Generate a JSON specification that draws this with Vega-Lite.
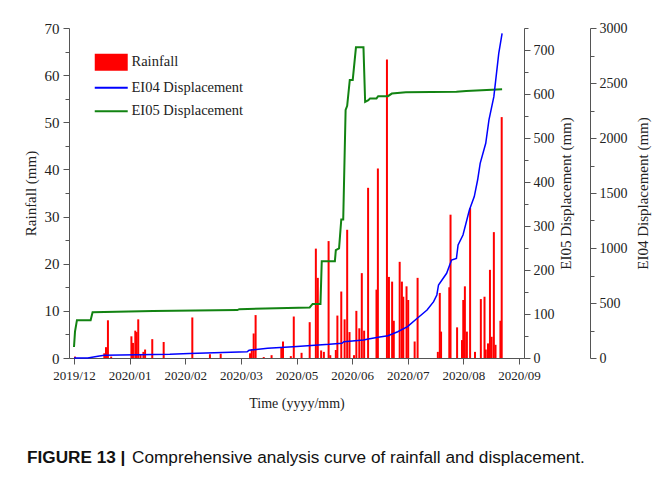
{
  "$schema": "https://vega.github.io/schema/vega-lite/v6.json",
  "autosize": "none",
  "width": 455,
  "height": 330,
  "padding": {"left": 69, "top": 28, "right": 140, "bottom": 120},
  "background": "white",
  "config": {
    "view": {"stroke": null},
    "axis": {"labelFont": "Liberation Serif", "titleFont": "Liberation Serif", "labelColor": "#222", "titleColor": "#222", "domainColor": "#555", "tickColor": "#555", "titleFontWeight": "normal", "grid": false}
  },
  "title": {
    "text": "FIGURE 13 |",
    "subtitle": "\u200b\u00a0\u00a0\u00a0\u00a0\u00a0\u00a0\u00a0\u00a0\u00a0\u00a0\u00a0\u00a0\u00a0\u00a0\u00a0\u00a0\u00a0\u00a0\u00a0\u00a0\u00a0\u00a0Comprehensive analysis curve of rainfall and displacement.",
    "orient": "bottom",
    "anchor": "start",
    "frame": "group",
    "dx": -42,
    "offset": 39,
    "font": "Liberation Sans",
    "fontSize": 17.2,
    "fontWeight": "bold",
    "color": "#111",
    "subtitleFont": "Liberation Sans",
    "subtitleFontSize": 17.2,
    "subtitleColor": "#111",
    "subtitlePadding": -17.2
  },
  "datasets": {
    "rain": [
      {"t":0.018,"r":0.3},{"t":0.545,"r":1.0},{"t":0.575,"r":2.3},{"t":0.610,"r":8.0},{"t":0.668,"r":0.3},
      {"t":1.032,"r":4.6},{"t":1.060,"r":3.2},{"t":1.102,"r":5.8},{"t":1.125,"r":5.5},{"t":1.155,"r":8.2},{"t":1.196,"r":0.8},{"t":1.248,"r":1.3},{"t":1.278,"r":1.8},{"t":1.407,"r":4.0},{"t":1.612,"r":3.4},
      {"t":2.127,"r":8.6},{"t":2.444,"r":0.8},{"t":2.637,"r":0.9},
      {"t":3.165,"r":1.0},{"t":3.195,"r":1.9},{"t":3.230,"r":5.2},{"t":3.265,"r":9.1},{"t":3.411,"r":0.2},{"t":3.552,"r":0.6},{"t":3.727,"r":2.3},{"t":3.757,"r":3.5},{"t":3.898,"r":0.4},{"t":3.951,"r":8.8},
      {"t":4.091,"r":1.1},{"t":4.237,"r":7.6},{"t":4.348,"r":23.2},{"t":4.383,"r":17.0},{"t":4.443,"r":1.6},{"t":4.492,"r":1.3},{"t":4.577,"r":24.8},{"t":4.607,"r":0.6},{"t":4.707,"r":1.7},{"t":4.735,"r":9.0},{"t":4.805,"r":14.1},{"t":4.865,"r":8.2},{"t":4.911,"r":27.2},{"t":4.953,"r":5.5},
      {"t":5.034,"r":0.6},{"t":5.076,"r":10.0},{"t":5.129,"r":6.3},{"t":5.174,"r":18.0},{"t":5.216,"r":5.8},{"t":5.287,"r":36.1},{"t":5.438,"r":14.5},{"t":5.463,"r":40.2},{"t":5.626,"r":63.3},{"t":5.662,"r":17.2},{"t":5.719,"r":16.2},{"t":5.749,"r":7.9},{"t":5.855,"r":20.4},{"t":5.895,"r":16.2},{"t":5.920,"r":13.0},{"t":5.978,"r":15.2},
      {"t":6.008,"r":12.3},{"t":6.124,"r":3.5},{"t":6.177,"r":17.0},{"t":6.541,"r":1.3},{"t":6.576,"r":13.8},{"t":6.599,"r":5.6},{"t":6.747,"r":15.0},{"t":6.769,"r":30.4},{"t":6.887,"r":6.5},{"t":6.975,"r":3.8},{"t":6.998,"r":12.3},
      {"t":7.027,"r":15.2},{"t":7.063,"r":5.6},{"t":7.121,"r":31.8},{"t":7.209,"r":1.3},{"t":7.314,"r":12.5},{"t":7.380,"r":13.0},{"t":7.402,"r":1.8},{"t":7.443,"r":3.1},{"t":7.478,"r":18.7},{"t":7.508,"r":4.5},{"t":7.548,"r":26.7},{"t":7.578,"r":2.8},{"t":7.666,"r":7.9},{"t":7.689,"r":51.1}
    ],
    "ei05": [
      {"t":0.000,"d":25},{"t":0.018,"d":60},{"t":0.053,"d":86},{"t":0.299,"d":86},{"t":0.334,"d":104},{"t":1.424,"d":107},{"t":2.936,"d":109},{"t":2.971,"d":111},{"t":4.237,"d":115},{"t":4.290,"d":123},{"t":4.431,"d":123},{"t":4.454,"d":220},{"t":4.690,"d":220},{"t":4.707,"d":245},{"t":4.765,"d":249},{"t":4.805,"d":315},{"t":4.840,"d":315},{"t":4.883,"d":564},{"t":4.911,"d":573},{"t":4.958,"d":632},{"t":5.011,"d":632},{"t":5.069,"d":706},{"t":5.204,"d":706},{"t":5.234,"d":582},{"t":5.292,"d":586},{"t":5.322,"d":590},{"t":5.438,"d":590},{"t":5.468,"d":595},{"t":5.644,"d":595},{"t":5.714,"d":601},{"t":5.966,"d":604},{"t":6.875,"d":605},{"t":7.051,"d":607},{"t":7.696,"d":611}
    ],
    "ei04": [
      {"t":0.000,"d":0},{"t":0.246,"d":0},{"t":0.457,"d":18},{"t":0.545,"d":24},{"t":1.723,"d":33},{"t":2.075,"d":42},{"t":3.112,"d":57},{"t":3.147,"d":70},{"t":3.481,"d":88},{"t":3.938,"d":103},{"t":4.589,"d":124},{"t":4.817,"d":134},{"t":4.852,"d":148},{"t":5.204,"d":164},{"t":5.292,"d":173},{"t":5.468,"d":188},{"t":5.644,"d":203},{"t":5.820,"d":239},{"t":5.996,"d":285},{"t":6.171,"d":361},{"t":6.347,"d":436},{"t":6.465,"d":512},{"t":6.523,"d":573},{"t":6.553,"d":664},{"t":6.699,"d":770},{"t":6.787,"d":891},{"t":6.875,"d":906},{"t":6.905,"d":1027},{"t":6.993,"d":1118},{"t":7.108,"d":1345},{"t":7.196,"d":1467},{"t":7.256,"d":1618},{"t":7.302,"d":1770},{"t":7.402,"d":1952},{"t":7.460,"d":2164},{"t":7.548,"d":2376},{"t":7.636,"d":2770},{"t":7.696,"d":2952}
    ]
  },
  "encoding": {
    "x": {
      "field": "t", "type": "quantitative",
      "scale": {"domain": [0, 8], "nice": false, "zero": false},
      "axis": {
        "title": "Time (yyyy/mm)", "values": [0,1,2,3,4,5,6,7,8],
        "labelExpr": "['2019/12','2020/01','2020/02','2020/03','2020/05','2020/06','2020/07','2020/08','2020/09'][datum.value]",
        "labelFontSize": 13, "titleFontSize": 14, "tickSize": 6, "labelPadding": 5, "titlePadding": 14, "labelFlush": false
      }
    }
  },
  "layer": [
    {
      "data": {"name": "rain"},
      "mark": {"type": "bar", "width": 2},
      "encoding": {
        "y": {
          "field": "r", "type": "quantitative",
          "scale": {"domain": [0, 70], "nice": false},
          "axis": {
            "orient": "left", "title": "Rainfall (mm)",
            "values": [0,5,10,15,20,25,30,35,40,45,50,55,60,65,70],
            "labelExpr": "datum.value % 10 === 0 ? datum.label : ''",
            "tickSize": {"condition": {"test": "datum.value % 10 === 0", "value": 6}, "value": 4},
            "labelFontSize": 15, "titleFontSize": 15, "labelPadding": 4, "titlePadding": 6
          }
        },
        "color": {
          "datum": "Rainfall",
          "scale": {"domain": ["Rainfall", "EI04 Displacement", "EI05 Displacement"], "range": ["#ff0000", "#0000ff", "#128312"]},
          "legend": {
            "orient": "top-left", "offset": 27, "title": null,
            "labelFont": "Liberation Serif", "labelFontSize": 14.5, "labelColor": "#222",
            "symbolSize": 289, "rowPadding": 8.5, "labelOffset": 21,
            "encode": {
              "symbols": {
                "update": {
                  "shape": {"signal": "datum.value === 'Rainfall' ? 'M-1,-1H2.88V1H-1Z' : 'M-1,0H2.88'"},
                  "fill": {"signal": "datum.value === 'Rainfall' ? '#ff0000' : 'transparent'"},
                  "stroke": {"signal": "datum.value === 'Rainfall' ? 'transparent' : (datum.value === 'EI04 Displacement' ? '#0000ff' : '#128312')"},
                  "strokeWidth": {"signal": "datum.value === 'Rainfall' ? 0 : 1.8"}
                }
              }
            }
          }
        }
      }
    },
    {
      "data": {"name": "ei05"},
      "mark": {"type": "line", "strokeWidth": 2, "interpolate": "linear"},
      "encoding": {
        "y": {
          "field": "d", "type": "quantitative",
          "scale": {"domain": [0, 750], "nice": false},
          "axis": {
            "orient": "right", "title": "EI05 Displacement (mm)", "titleAngle": 270, "titleBaseline": "top",
            "values": [0,50,100,150,200,250,300,350,400,450,500,550,600,650,700,750],
            "labelExpr": "datum.value % 100 === 0 ? datum.label : ''",
            "tickSize": {"condition": {"test": "datum.value % 100 === 0", "value": 6}, "value": 4},
            "labelFontSize": 14, "titleFontSize": 15, "labelPadding": 3, "titlePadding": 4
          }
        },
        "color": {"datum": "EI05 Displacement"}
      }
    },
    {
      "data": {"name": "ei04"},
      "mark": {"type": "line", "strokeWidth": 1.5, "interpolate": "linear"},
      "encoding": {
        "y": {
          "field": "d", "type": "quantitative",
          "scale": {"domain": [0, 3000], "nice": false},
          "axis": {
            "orient": "right", "offset": 66, "title": "EI04 Displacement (mm)", "titleAngle": 270, "titleBaseline": "top",
            "values": [0,250,500,750,1000,1250,1500,1750,2000,2250,2500,2750,3000],
            "labelExpr": "datum.value % 500 === 0 ? datum.label : ''",
            "tickSize": {"condition": {"test": "datum.value % 500 === 0", "value": 6}, "value": 4},
            "labelFontSize": 14, "titleFontSize": 15, "labelPadding": 3, "titlePadding": 8, "format": "d"
          }
        },
        "color": {"datum": "EI04 Displacement"}
      }
    }
  ],
  "resolve": {"scale": {"y": "independent"}}
}
